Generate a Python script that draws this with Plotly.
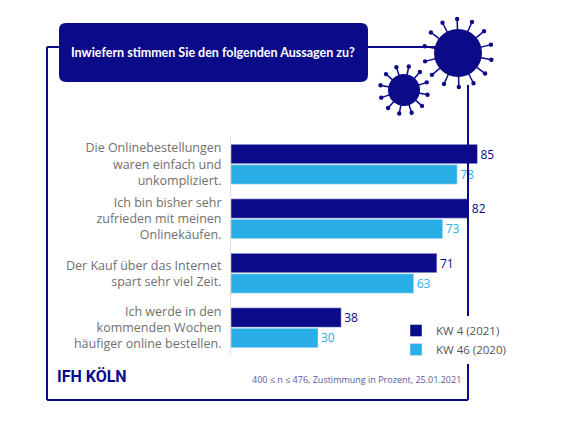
import plotly.graph_objects as go
import math

categories = ["Die Onlinebestellungen<br>waren einfach und<br>unkompliziert.",
              "Ich bin bisher sehr<br>zufrieden mit meinen<br>Onlinekäufen.",
              "Der Kauf über das Internet<br>spart sehr viel Zeit.",
              "Ich werde in den<br>kommenden Wochen<br>häufiger online bestellen."]
kw4_2021 = [85, 82, 71, 38]
kw46_2020 = [78, 73, 63, 30]

W, H = 564, 423
OFF = 8
NAVY = "#0b0b8a"
LIGHT = "#29aee8"

def px(x): return (x - OFF) / W
def py(y): return 1 - (y - OFF) / H

fig = go.Figure()
fig.add_bar(y=categories, x=kw4_2021, name="KW 4 (2021)", orientation="h", marker_color=NAVY,
            text=kw4_2021, textposition="outside", textfont=dict(color=NAVY, size=12), offsetgroup=0)
fig.add_bar(y=categories, x=kw46_2020, name="KW 46 (2020)", orientation="h", marker_color=LIGHT,
            text=kw46_2020, textposition="outside", textfont=dict(color=LIGHT, size=12), offsetgroup=1)

shapes = []
line = dict(color=NAVY, width=2)
shapes += [
    dict(type="line", xref="paper", yref="paper", x0=px(47), x1=px(47), y0=py(47), y1=py(400), line=line),
    dict(type="line", xref="paper", yref="paper", x0=px(47), x1=px(468), y0=py(400), y1=py(400), line=line),
    dict(type="line", xref="paper", yref="paper", x0=px(468), x1=px(468), y0=py(85), y1=py(400), line=line),
    dict(type="line", xref="paper", yref="paper", x0=px(47), x1=px(60), y0=py(47), y1=py(47), line=line),
    dict(type="line", xref="paper", yref="paper", x0=px(366), x1=px(440), y0=py(47), y1=py(47), line=line),
]
shapes.append(dict(type="path", xref="paper", yref="paper", fillcolor=NAVY, line=dict(width=0),
    path=f"M {px(66)},{py(23)} L {px(361)},{py(23)} Q {px(368)},{py(23)} {px(368)},{py(30)} "
         f"L {px(368)},{py(75)} Q {px(368)},{py(82)} {px(361)},{py(82)} L {px(66)},{py(82)} "
         f"Q {px(59)},{py(82)} {px(59)},{py(75)} L {px(59)},{py(30)} Q {px(59)},{py(23)} {px(66)},{py(23)} Z"))

def virus(cx, cy, r, n, spike):
    s = []
    for i in range(n):
        a = 2 * math.pi * i / n + 0.2
        x1, y1 = cx + (r + spike) * math.cos(a), cy + (r + spike) * math.sin(a)
        s.append(dict(type="line", xref="paper", yref="paper", x0=px(cx), y0=py(cy), x1=px(x1), y1=py(y1),
                      line=dict(color=NAVY, width=1.5)))
        d = 2.2
        s.append(dict(type="circle", xref="paper", yref="paper", x0=px(x1 - d), x1=px(x1 + d),
                      y0=py(y1 - d), y1=py(y1 + d), fillcolor=NAVY, line=dict(width=0)))
    s.append(dict(type="circle", xref="paper", yref="paper", x0=px(cx - r), x1=px(cx + r),
                  y0=py(cy - r), y1=py(cy + r), fillcolor=NAVY, line=dict(width=0)))
    return s

shapes += virus(458, 53, 24, 14, 10)
shapes += virus(404, 90, 16, 12, 8)

fig.update_layout(
    width=W, height=H, margin=dict(l=0, r=0, t=0, b=0),
    paper_bgcolor="white", plot_bgcolor="white",
    barmode="group", bargap=0.25, bargroupgap=0.05,
    font=dict(family="Open Sans", color="#555555"),
    xaxis=dict(domain=[px(231), px(521)], range=[0, 100], visible=False),
    yaxis=dict(domain=[py(355), py(137)], autorange="reversed", showline=True, linecolor="#dddddd",
               linewidth=1, ticks="", tickfont=dict(size=12.5, color="#707070"), ticklabelstandoff=6),
    showlegend=True,
    legend=dict(x=px(396), y=py(316), xanchor="left", yanchor="top", font=dict(size=11.5, color="#555555"),
                traceorder="normal", itemwidth=30, tracegroupgap=2),
    shapes=shapes,
    annotations=[
        dict(text="<b>Inwiefern stimmen Sie den folgenden Aussagen zu?</b>", xref="paper", yref="paper",
             x=px(213), y=py(52), xanchor="center", yanchor="middle", showarrow=False,
             font=dict(size=12.5, color="white", family="Lato")),
        dict(text="<b>IFH KÖLN</b>", xref="paper", yref="paper", x=px(55), y=py(388), xanchor="left",
             showarrow=False, font=dict(size=16, color=NAVY, family="Roboto")),
        dict(text="400 ≤ n ≤ 476, Zustimmung in Prozent, 25.01.2021", xref="paper", yref="paper",
             x=px(463), y=py(388), xanchor="right", showarrow=False, font=dict(size=9, color="#5a5aa0")),
    ],
)
fig.write_html("out.html")
